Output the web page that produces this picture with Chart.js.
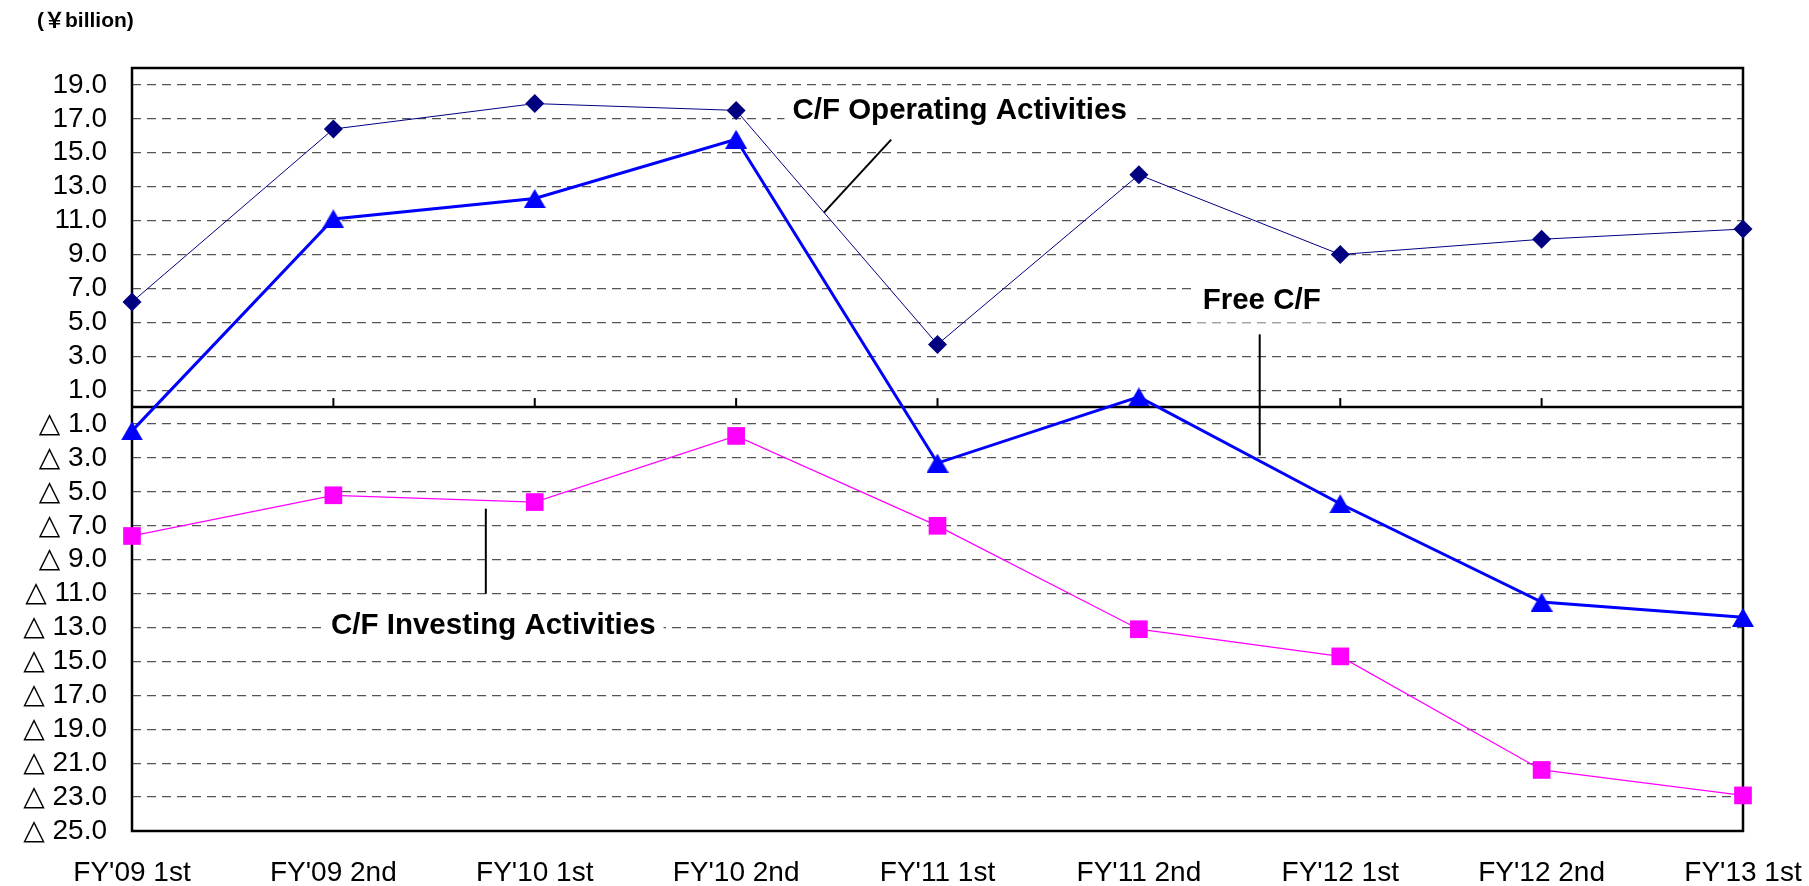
<!DOCTYPE html>
<html>
<head>
<meta charset="utf-8">
<script src="https://cdn.jsdelivr.net/npm/chart.js@4.4.1/dist/chart.umd.min.js"></script>
<style>
  html,body{margin:0;padding:0;background:#fff;}
  #wrap{width:1809px;height:886px;position:relative;}
</style>
</head>
<body>
<div id="wrap"><canvas id="cf"></canvas></div>
<script>
// chart data
const categories = ["FY'09 1st","FY'09 2nd","FY'10 1st","FY'10 2nd","FY'11 1st","FY'11 2nd","FY'12 1st","FY'12 2nd","FY'13 1st"];
const operating = [6.2, 16.4, 17.9, 17.5, 3.7, 13.7, 9.0, 9.9, 10.5];
const investing = [-7.6, -5.2, -5.6, -1.7, -7.0, -13.1, -14.7, -21.4, -22.9];
const freeCF = [-1.4, 11.1, 12.3, 15.8, -3.3, 0.6, -5.7, -11.5, -12.4];
const yTicks = [19, 17, 15, 13, 11, 9, 7, 5, 3, 1, -1, -3, -5, -7, -9, -11, -13, -15, -17, -19, -21, -23, -25];
const yMin = -25, yMax = 20;
const unitLabel = '(\uFFE5billion)';

// annotation labels: text, anchor (category index, value), leader line ends
const notes = [
  {text:'C/F Operating Activities', x:4.11, y:17.5, line:[[3.77,15.78],[3.436,11.47]]},
  {text:'Free C/F', x:5.61, y:6.29, line:[[5.6,4.29],[5.6,-2.85]]},
  {text:'C/F Investing Activities', x:1.794, y:-12.89, line:[[1.757,-5.99],[1.757,-11.01]]}
];

const FONT = "'Liberation Sans', Arial, 'DejaVu Sans', 'Noto Sans CJK JP', sans-serif";

function triangleImg(w, h, color){
  const c = document.createElement('canvas'); c.width = w; c.height = h;
  const g = c.getContext('2d'); g.fillStyle = color;
  g.beginPath(); g.moveTo(w/2, 0); g.lineTo(w, h); g.lineTo(0, h); g.closePath(); g.fill();
  return c;
}

const decor = {
  id: 'decor',
  beforeDatasetsDraw(chart){
    const {ctx, chartArea: a, scales: {x, y}} = chart;
    ctx.save();
    // annotations with white box behind
    ctx.font = 'bold 29.5px ' + FONT;
    ctx.textAlign = 'center'; ctx.textBaseline = 'middle';
    notes.forEach(n=>{
      const px = x.getPixelForValue(n.x), py = y.getPixelForValue(n.y);
      const w = ctx.measureText(n.text).width;
      ctx.fillStyle = '#fff';
      ctx.fillRect(px - w/2 - 8, py - 22, w + 16, 44);
      ctx.fillStyle = '#000';
      ctx.fillText(n.text, px, py);
      ctx.strokeStyle = '#000'; ctx.lineWidth = 2;
      ctx.beginPath();
      ctx.moveTo(x.getPixelForValue(n.line[0][0]), y.getPixelForValue(n.line[0][1]));
      ctx.lineTo(x.getPixelForValue(n.line[1][0]), y.getPixelForValue(n.line[1][1]));
      ctx.stroke();
    });
    // zero line + category ticks
    const y0 = y.getPixelForValue(0);
    ctx.strokeStyle = '#000'; ctx.lineWidth = 2.5;
    ctx.beginPath(); ctx.moveTo(a.left, y0); ctx.lineTo(a.right, y0); ctx.stroke();
    ctx.lineWidth = 2;
    categories.forEach((c,i)=>{
      const px = x.getPixelForValue(i);
      ctx.beginPath(); ctx.moveTo(px, y0); ctx.lineTo(px, y0 - 9); ctx.stroke();
    });
    // plot border
    ctx.lineWidth = 2.5;
    ctx.strokeRect(a.left, a.top, a.right - a.left, a.bottom - a.top);
    ctx.restore();
  },
  afterDraw(chart){
    const ctx = chart.ctx;
    ctx.save();
    ctx.font = 'bold 21px ' + FONT;
    ctx.fillStyle = '#000'; ctx.textAlign = 'left'; ctx.textBaseline = 'middle';
    ctx.fillText(unitLabel, 37, 21);
    ctx.restore();
  }
};

new Chart(document.getElementById('cf').getContext('2d'), {
  type: 'line',
  data: {
    labels: categories,
    datasets: [
      {label:'Free C/F', data:freeCF, borderColor:'#0000FF', borderWidth:3, pointStyle:triangleImg(22,19,'#0000FF'), pointRadius:10, clip:false, tension:0},
      {label:'C/F Operating Activities', data:operating, borderColor:'#000080', borderWidth:1, pointStyle:'rectRot', pointRadius:9.5, pointBackgroundColor:'#000080', pointBorderWidth:0, clip:false, tension:0},
      {label:'C/F Investing Activities', data:investing, borderColor:'#FF00FF', borderWidth:1.3, pointStyle:'rect', pointRadius:12.5, pointBackgroundColor:'#FF00FF', pointBorderWidth:0, clip:false, tension:0}
    ]
  },
  options: {
    responsive: true, maintainAspectRatio: false, animation: false,
    layout: {padding: {left:0, top:68, right:66, bottom:0}},
    plugins: {legend:{display:false}, tooltip:{enabled:false}},
    scales: {
      x: {
        offset: false,
        grid: {display:false},
        border: {display:false},
        ticks: {color:'#000', font:{size:28, family:FONT}, padding:17, maxRotation:0, autoSkip:false},
        afterFit(s){ s.height = 55; s.paddingLeft = 0; s.paddingRight = 0; }
      },
      y: {
        min: yMin, max: yMax,
        afterBuildTicks(s){ s.ticks = yTicks.map(v=>({value:v})); },
        grid: {color:'#555', lineWidth:1.3, drawTicks:false},
        border: {display:false, dash:[9,6]},
        ticks: {color:'#000', font:{size:28, family:FONT}, padding:25, autoSkip:false,
          callback: v => v < 0 ? '\u25B3 ' + Math.abs(v).toFixed(1) : v.toFixed(1)},
        afterFit(s){ s.width = 132; s.paddingTop = 0; s.paddingBottom = 0; }
      }
    }
  },
  plugins: [decor]
});
</script>
</body>
</html>
